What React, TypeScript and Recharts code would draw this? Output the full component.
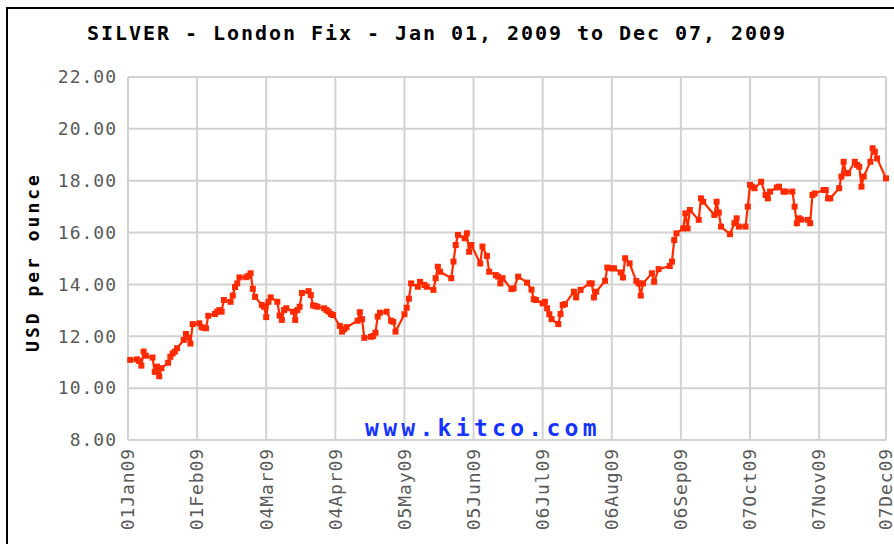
import React from 'react';
import { LineChart, Line, XAxis, YAxis, CartesianGrid } from 'recharts';

// Day of year 2009 (0 = 01 Jan) for each London fix
const dayOfYear = [
  1, 4, 5, 6, 7, 8, 11, 12, 13, 14, 15, 18, 19, 20, 21, 22, 25, 26, 27, 28, 29,
  32, 33, 34, 35, 36, 39, 40, 41, 42, 43, 46, 47, 48, 49, 50, 53, 54, 55, 56, 57,
  60, 61, 62, 63, 64, 67, 68, 69, 70, 71, 74, 75, 76, 77, 78, 81, 82, 83, 84, 85, 88, 89, 90, 91, 92,
  95, 96, 97, 98, 103, 104, 105, 106, 109, 110, 111, 112, 113, 116, 118, 119, 120,
  124, 125, 126, 127, 130, 131, 133, 134, 137, 138, 139, 140, 145, 146, 147, 148, 151, 152, 153, 154,
  158, 159, 161, 162, 165, 166, 167, 168, 172, 173, 175, 179, 181, 182, 183,
  186, 187, 188, 189, 190, 193, 194, 195, 196, 200, 201, 203, 207, 208, 209, 210,
  214, 215, 217, 218, 221, 222, 223, 225, 228, 229, 230, 231, 235, 236, 238,
  243, 244, 245, 246, 249, 250, 251, 252, 256, 257, 258, 263, 264, 265, 266, 270, 272, 273, 274,
  277, 278, 279, 280, 281, 284, 286, 287, 288, 291, 292, 294, 295, 298, 299, 300, 301, 302,
  305, 306, 307, 308, 312, 313, 314, 315, 319, 320, 321, 322, 323, 326, 327, 328, 329, 330,
  333, 334, 335, 336, 340,
];

// USD per ounce
const silverUsd = [
  11.09, 11.11, 11.05, 10.87, 11.41, 11.25, 11.18, 10.63, 10.83, 10.46, 10.77, 10.98, 11.21, 11.34, 11.41, 11.54, 11.86, 12.09, 11.95, 11.72, 12.47,
  12.5, 12.35, 12.33, 12.31, 12.79, 12.86, 12.95, 13.01, 12.95, 13.4, 13.33, 13.57, 13.9, 14.04, 14.27, 14.28, 14.33, 14.43, 13.83, 13.52,
  13.21, 13.14, 12.74, 13.33, 13.5, 13.33, 12.8, 12.63, 13.01, 13.08, 12.95, 12.63, 13.01, 13.14, 13.67, 13.74, 13.59, 13.19, 13.17, 13.14, 13.08, 13.01, 12.95, 12.86, 12.82,
  12.4, 12.18, 12.27, 12.35, 12.6, 12.93, 12.66, 11.94, 11.98, 12.01, 12.14, 12.76, 12.91, 12.95, 12.6, 12.56, 12.18,
  12.85, 13.1, 13.45, 14.04, 13.91, 14.1, 13.98, 13.91, 13.79, 14.24, 14.68, 14.49, 14.24, 14.88, 15.52, 15.91, 15.78, 15.97, 15.26, 15.52,
  14.81, 15.46, 15.1, 14.49, 14.36, 14.3, 14.04, 14.24, 13.82, 13.85, 14.3, 14.07, 13.8, 13.43, 13.4,
  13.27, 13.33, 13.08, 12.85, 12.66, 12.47, 12.86, 13.21, 13.24, 13.72, 13.5, 13.79, 14.04, 14.04, 13.5, 13.72,
  14.14, 14.65, 14.62, 14.62, 14.46, 14.27, 15.01, 14.81, 14.13, 14.04, 13.57, 14.04, 14.43, 14.1, 14.59,
  14.71, 14.88, 15.71, 15.97, 16.16, 16.74, 16.16, 16.87, 16.49, 17.32, 17.19, 16.68, 17.19, 16.77, 16.23, 15.94, 16.36, 16.55, 16.23,
  16.23, 17.0, 17.84, 17.77, 17.71, 17.96, 17.45, 17.32, 17.58, 17.74, 17.77, 17.58, 17.58, 17.58, 17.0, 16.36, 16.55, 16.5,
  16.49, 16.36, 17.45, 17.51, 17.64, 17.64, 17.32, 17.32, 17.71, 18.16, 18.73, 18.29, 18.29, 18.73, 18.61, 18.54, 17.77, 18.16,
  18.73, 19.25, 19.12, 18.86, 18.09,
];

const xTickDays = [0, 31, 62, 93, 124, 155, 186, 217, 248, 279, 310, 340];
const xTickLabels = ['01Jan09', '01Feb09', '04Mar09', '04Apr09', '05May09', '05Jun09', '06Jul09', '06Aug09', '06Sep09', '07Oct09', '07Nov09', '07Dec09'];
const yTicks = [8, 10, 12, 14, 16, 18, 20, 22];

const titleText = 'SILVER - London Fix - Jan 01, 2009 to Dec 07, 2009';
const yAxisTitle = 'USD per ounce';
const watermark = 'www.kitco.com';

const data = dayOfYear.map((d, i) => ({ day: d, price: silverUsd[i] }));

const MONO = '"DejaVu Sans Mono", "Liberation Mono", monospace';
const RED = '#ff2a00';
const GRID = '#d2d2d2';
const TICK = '#5a5a5a';

const XTick = (props: any) => {
  const { x, y, payload } = props;
  const idx = xTickDays.indexOf(payload.value);
  return (
    <text
      x={x}
      y={y}
      transform={`rotate(-90 ${x} ${y})`}
      textAnchor="end"
      dy="0.35em"
      fill={TICK}
      fontFamily={MONO}
      fontSize={18}
      letterSpacing={0.9}
    >
      {idx >= 0 ? xTickLabels[idx] : ''}
    </text>
  );
};

const YTick = (props: any) => {
  const { x, y, payload } = props;
  return (
    <text x={x} y={y} textAnchor="end" dy="0.35em" fill={TICK} fontFamily={MONO} fontSize={18} letterSpacing={1}>
      {Number(payload.value).toFixed(2)}
    </text>
  );
};

const SquareDot = (props: any) => {
  const { cx, cy, index } = props;
  if (cx == null || cy == null) return <g key={`d${index}`} />;
  return <rect key={`d${index}`} x={cx - 3} y={cy - 3} width={6} height={6} fill={RED} />;
};

export default function App() {
  return (
    <div style={{ position: 'absolute', left: 0, top: 0, width: 894, height: 544, overflow: 'hidden', background: '#fff' }}>
      <div
        style={{
          position: 'absolute',
          left: 6,
          top: 7,
          width: 2000,
          height: 2000,
          border: '2px solid #000',
          boxSizing: 'border-box',
        }}
      />
      <div style={{ position: 'absolute', left: 0, top: 0 }}>
        <LineChart width={894} height={544} data={data} margin={{ top: 77, right: 8, bottom: 0, left: 0 }}>
          <CartesianGrid stroke={GRID} strokeWidth={2} horizontalValues={yTicks} verticalValues={xTickDays} />
          <XAxis
            dataKey="day"
            type="number"
            domain={[0, 340]}
            ticks={xTickDays}
            interval={0}
            height={104}
            tickLine={false}
            tickSize={0}
            tickMargin={8}
            axisLine={{ stroke: GRID, strokeWidth: 2 }}
            tick={<XTick />}
          />
          <YAxis
            type="number"
            domain={[8, 22]}
            ticks={yTicks}
            interval={0}
            width={128}
            tickLine={false}
            tickSize={0}
            tickMargin={11}
            axisLine={{ stroke: GRID, strokeWidth: 2 }}
            tick={<YTick />}
          />
          <Line
            type="linear"
            dataKey="price"
            stroke={RED}
            strokeWidth={2.2}
            dot={<SquareDot />}
            activeDot={false}
            isAnimationActive={false}
          />
        </LineChart>
      </div>
      <svg width={894} height={544} style={{ position: 'absolute', left: 0, top: 0, pointerEvents: 'none' }}>
        <text x={87} y={40} fontFamily={MONO} fontWeight="bold" fontSize={20} letterSpacing={1.96} fill="#000">
          {titleText}
        </text>
        <text
          x={33}
          y={262}
          transform="rotate(-90 33 262)"
          textAnchor="middle"
          dy="0.35em"
          fontFamily={MONO}
          fontWeight="bold"
          fontSize={18}
          letterSpacing={3}
          fill="#000"
        >
          {yAxisTitle}
        </text>
        <text x={365} y={436} fontFamily={MONO} fontWeight="bold" fontSize={23} letterSpacing={4.3} fill="#1433ff">
          {watermark}
        </text>
      </svg>
    </div>
  );
}
